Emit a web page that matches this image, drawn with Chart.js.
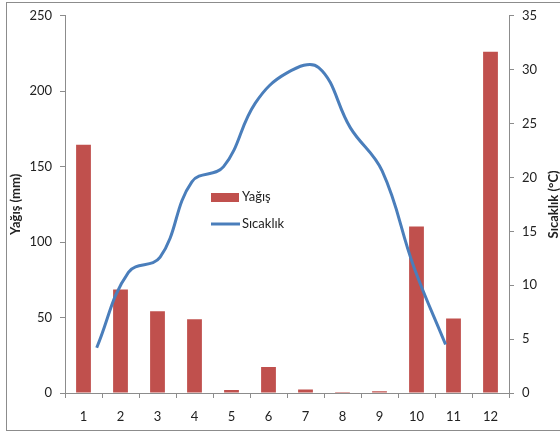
<!DOCTYPE html>
<html>
<head>
<meta charset="utf-8">
<script src="https://cdn.jsdelivr.net/npm/chart.js@4.4.0/dist/chart.umd.min.js"></script>
<style>
  html,body{margin:0;padding:0;background:#fff;}
  #wrap{position:relative;width:560px;height:434px;overflow:hidden;}
  #frame{position:absolute;left:6px;top:2px;width:560px;height:429px;border:1px solid #8c8c8c;box-sizing:border-box;}
  canvas{position:absolute;left:0;top:0;}
</style>
</head>
<body>
<div id="wrap">
  <div id="frame"></div>
  <canvas id="c" width="560" height="434"></canvas>
</div>
<script>
// months
const months=['1','2','3','4','5','6','7','8','9','10','11','12'];
// precipitation, mm
const yagis=[164.5,68.6,54.2,48.9,2.0,17.2,2.4,0.6,1.1,110.4,49.4,226.2];
// temperature, °C (scatter on secondary axes, x = 1..12 on a 0..14 axis)
const sicaklikX=[1,2,3,4,5,6,7,8,9,10,11,12];
const sicaklik=[4.2,11.2,12.6,19.6,21.0,26.9,29.7,30.2,24.6,20.6,11.7,4.5];

const FONT='Lato, "Open Sans", sans-serif';
const RED='#C0504D', BLUE='#4A7EBB', AXIS='#8c8c8c';

// legend + right title drawn by hand (legend sits inside the plot)
const extras={
  id:'extras',
  afterDraw(chart){
    const ctx=chart.ctx, ca=chart.chartArea;
    ctx.save();
    // legend
    const lx=211, ly=197;
    ctx.fillStyle=RED;
    ctx.fillRect(lx,ly-4,28,9);
    ctx.strokeStyle=BLUE; ctx.lineWidth=3;
    ctx.beginPath(); ctx.moveTo(lx,ly+27); ctx.lineTo(lx+29,ly+27); ctx.stroke();
    ctx.fillStyle='#222'; ctx.font='13px '+FONT; ctx.textBaseline='middle'; ctx.textAlign='left';
    ctx.fillText(chart.data.datasets[0].label,lx+31,ly);
    ctx.fillText(chart.data.datasets[1].label,lx+31,ly+27);
    // right axis title, reading bottom to top
    ctx.translate(554,(ca.top+ca.bottom)/2);
    ctx.rotate(-Math.PI/2);
    ctx.font='bold 13px '+FONT; ctx.textAlign='center';
    ctx.fillText('Sıcaklık (°C)',0,0);
    ctx.restore();
  }
};

new Chart(document.getElementById('c'),{
  type:'bar',
  data:{
    labels:months,
    datasets:[
      {label:'Yağış', data:yagis, backgroundColor:RED, borderWidth:0, grouped:false,
       barPercentage:0.4, categoryPercentage:1, xAxisID:'x', yAxisID:'y', order:2},
      {type:'line', label:'Sıcaklık', data:sicaklikX.map((x,i)=>({x:x,y:sicaklik[i]})),
       borderColor:BLUE, borderWidth:3, pointRadius:0, tension:0.4, fill:false,
       xAxisID:'x2', yAxisID:'y2', order:1}
    ]
  },
  options:{
    responsive:false, animation:false,
    layout:{padding:{left:0,right:0,top:15,bottom:0}},
    plugins:{legend:{display:false}, tooltip:{enabled:false}},
    scales:{
      x:{
        position:'bottom',
        grid:{display:true, drawOnChartArea:false, drawTicks:true, tickLength:5, color:AXIS, offset:true},
        border:{color:AXIS},
        ticks:{color:'#222', font:{family:FONT,size:13}, padding:11, maxRotation:0},
        afterFit(s){s.height=41;}
      },
      x2:{type:'linear', display:false, offset:false, min:0, max:14},
      y:{
        position:'left', min:0, max:250,
        grid:{drawOnChartArea:false, tickLength:5, color:AXIS},
        border:{color:AXIS},
        ticks:{stepSize:50, color:'#222', font:{family:FONT,size:13}, padding:8},
        title:{display:true, text:'Yağış (mm)', color:'#222', font:{family:FONT,size:13,weight:'bold'}, padding:{top:8,bottom:0}},
        afterFit(s){s.width=65;}
      },
      y2:{
        position:'right', min:0, max:35,
        grid:{drawOnChartArea:false, tickLength:5, color:AXIS},
        border:{color:AXIS},
        ticks:{stepSize:5, color:'#222', font:{family:FONT,size:13}, padding:8},
        afterFit(s){s.width=51;}
      }
    }
  },
  plugins:[extras]
});
</script>
</body>
</html>
